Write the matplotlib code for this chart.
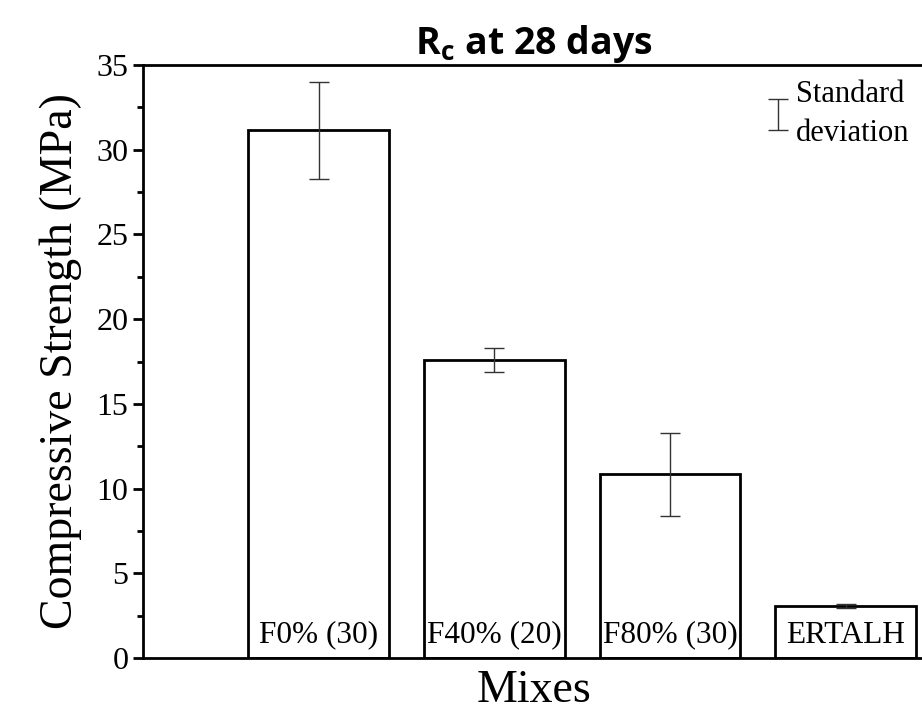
import matplotlib
matplotlib.use("Agg")
import matplotlib.pyplot as plt
from matplotlib.ticker import MultipleLocator

# data
mixes = ["F0% (30)", "F40% (20)", "F80% (30)", "ERTALH"]
strength = [31.15, 17.6, 10.85, 3.07]
std_dev = [2.85, 0.7, 2.45, 0.13]

plt.rcParams["font.family"] = "Liberation Serif"

fig = plt.figure(figsize=(9.22, 7.15), dpi=100)
ax = fig.add_axes([0.155, 0.0797, 0.848, 0.8294])

x = list(range(1, len(mixes) + 1))
ax.bar(x, strength, width=0.8, color="white", edgecolor="black", linewidth=2, zorder=2)
err = ax.errorbar(x, strength, yerr=std_dev, fmt="none", ecolor="#333333",
                  elinewidth=1, capsize=7, capthick=1, zorder=3,
                  label="Standard\ndeviation")

for xi, name in zip(x, mixes):
    ax.text(xi, 0.5, name, ha="center", va="bottom", fontsize=22.5, zorder=4)

ax.set_xlim(0, 4.45)
ax.set_ylim(0, 35)
ax.yaxis.set_major_locator(MultipleLocator(5))
ax.yaxis.set_minor_locator(MultipleLocator(2.5))
ax.set_xticks([])
ax.tick_params(axis="y", which="major", direction="out", length=7, width=2, labelsize=23)
ax.tick_params(axis="y", which="minor", direction="out", length=4, width=2)

for side in ["left", "bottom", "top"]:
    ax.spines[side].set_linewidth(2)
ax.spines["right"].set_visible(False)

ax.set_ylabel("Compressive Strength (MPa)", fontsize=33, labelpad=10)
ax.set_xlabel("Mixes", fontsize=33, labelpad=8)
ax.set_title(r"R$_\mathregular{c}$ at 28 days", fontsize=27, fontweight="bold",
             family="Open Sans", pad=6)

leg = ax.legend(handles=[err], loc="upper right", frameon=False, fontsize=22,
                handlelength=0.5, handletextpad=0.35, borderaxespad=0.1)
leg.get_texts()[0].set_linespacing(1.45)

fig.savefig("out.png", dpi=100)
